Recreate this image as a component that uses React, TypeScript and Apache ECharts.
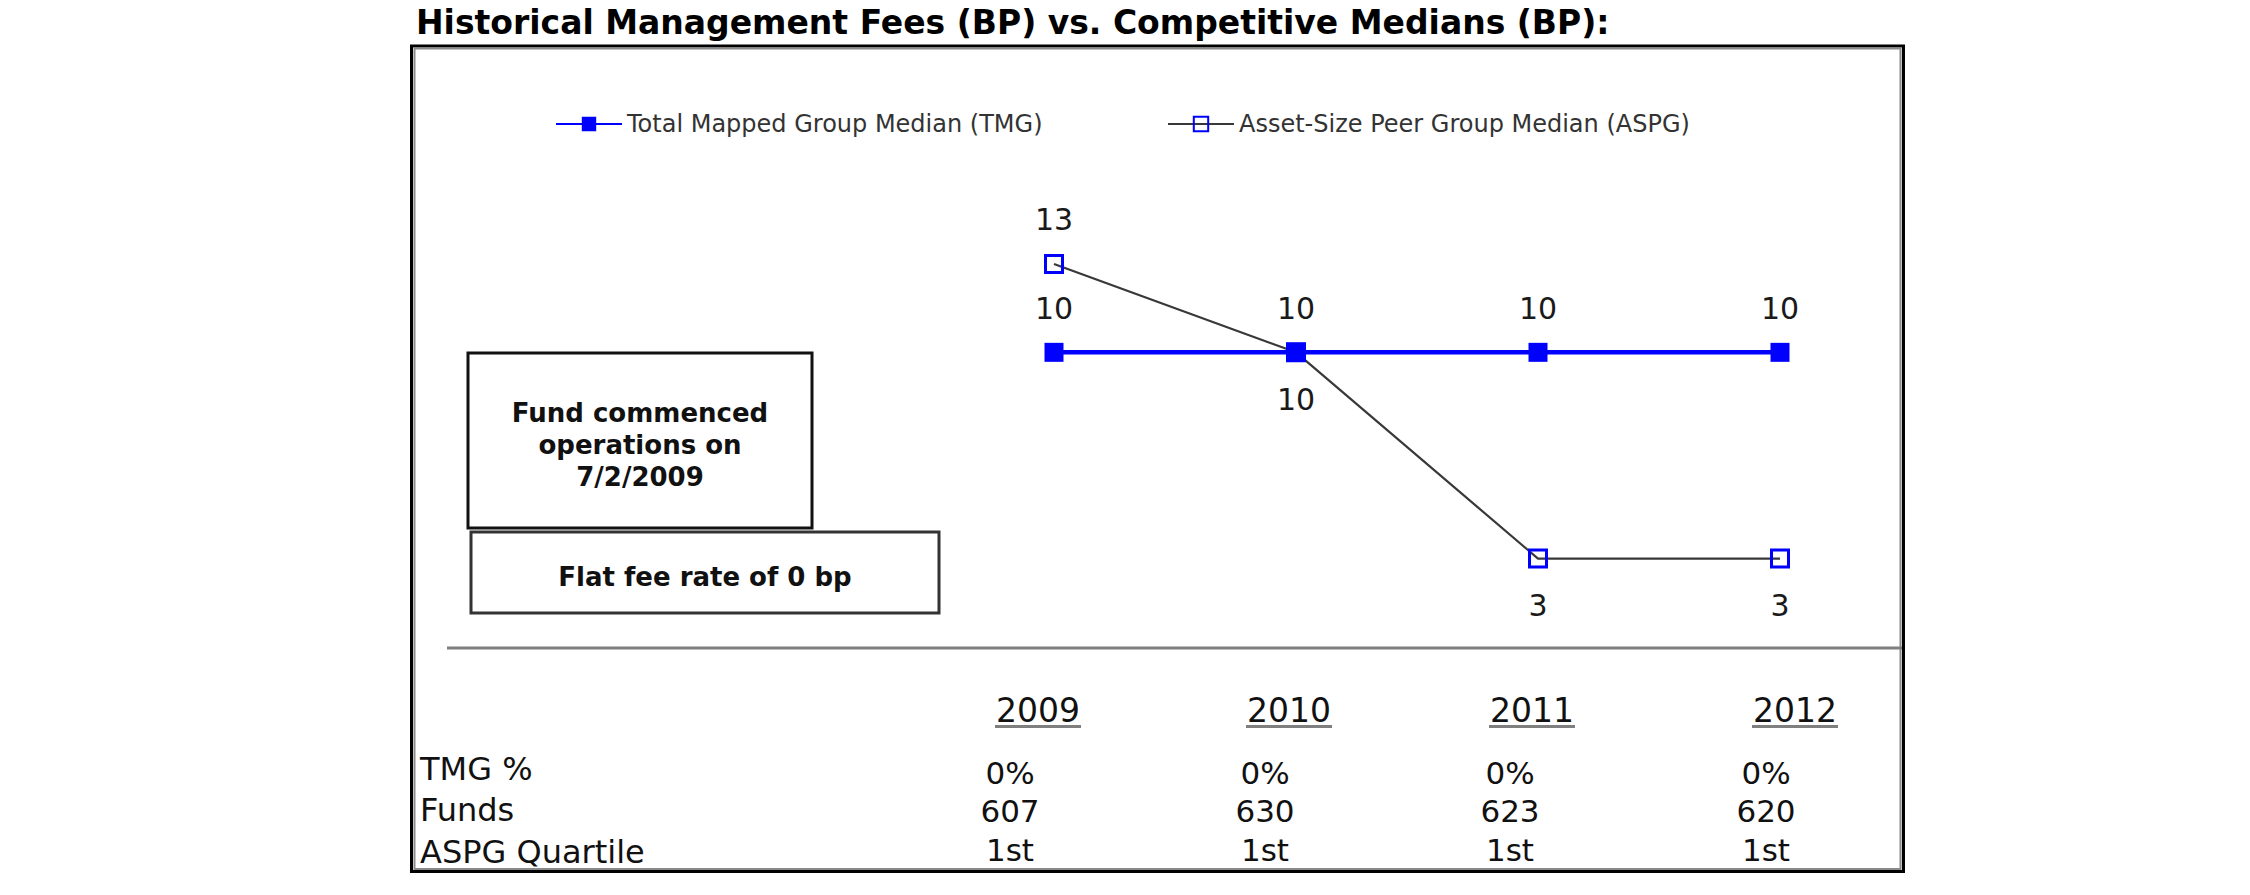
import React, { useEffect, useRef } from "react";
import * as echarts from "echarts";

// ---- data ----
const years = ["2009", "2010", "2011", "2012"];
const tmgMedian = [10, 10, 10, 10];
const aspgMedian = [13, 10, 3, 3];
const tmgPct = ["0%", "0%", "0%", "0%"];
const fundCounts = [607, 630, 623, 620];
const aspgQuartile = ["1st", "1st", "1st", "1st"];
const rowLabels = ["TMG %", "Funds", "ASPG Quartile"];
const seriesNames = ["Total Mapped Group Median (TMG)", "Asset-Size Peer Group Median (ASPG)"];
const titleText = "Historical Management Fees (BP) vs. Competitive Medians (BP):";
const noteLines = ["Fund commenced", "operations on", "7/2/2009"];
const feeNote = "Flat fee rate of 0 bp";
const aspgLabelSide = ["top", "bottom", "bottom", "bottom"];

// ---- layout (positions / styles) ----
const FONT = "DejaVu Sans";
const yearColX = [1038, 1289, 1532, 1795];
const valueColX = [1010, 1265, 1510, 1766];
const rowLabelY = [769, 810, 852];
const rowValueY = [773, 811, 850];
const yearY = 710;

function buildGraphics() {
  const g: any[] = [];
  g.push({
    type: "text",
    left: 416,
    top: 6,
    style: { text: titleText, fontFamily: FONT, fontWeight: "bold", fontSize: 33, fill: "#000" },
  });
  // frame
  g.push({
    type: "rect",
    shape: { x: 411.5, y: 46, width: 1492, height: 825.5 },
    style: { fill: "none", stroke: "#000", lineWidth: 3 },
  });
  g.push({
    type: "rect",
    shape: { x: 414.5, y: 48.5, width: 1486, height: 820.5 },
    style: { fill: "none", stroke: "#8a8a8a", lineWidth: 2 },
  });
  // separator
  g.push({
    type: "line",
    shape: { x1: 447, y1: 648, x2: 1902, y2: 648 },
    style: { stroke: "#7f7f7f", lineWidth: 3 },
  });
  // note boxes
  g.push({
    type: "rect",
    shape: { x: 468, y: 353, width: 344, height: 175 },
    style: { fill: "#fff", stroke: "#111", lineWidth: 3 },
  });
  g.push({
    type: "rect",
    shape: { x: 471, y: 532, width: 468, height: 81 },
    style: { fill: "#fff", stroke: "#333", lineWidth: 3 },
  });
  noteLines.forEach((t, i) => {
    g.push({
      type: "text",
      x: 640,
      y: 413 + i * 32,
      style: { text: t, fontFamily: FONT, fontWeight: "bold", fontSize: 26, fill: "#111", align: "center", verticalAlign: "middle" },
    });
  });
  g.push({
    type: "text",
    x: 705,
    y: 577,
    style: { text: feeNote, fontFamily: FONT, fontWeight: "bold", fontSize: 26, fill: "#111", align: "center", verticalAlign: "middle" },
  });
  // table
  years.forEach((yr, i) => {
    g.push({
      type: "text",
      x: yearColX[i],
      y: yearY,
      style: { text: yr, fontFamily: FONT, fontSize: 33, fill: "#111", align: "center", verticalAlign: "middle" },
    });
    g.push({
      type: "rect",
      shape: { x: yearColX[i] - 43, y: 725, width: 86, height: 3 },
      style: { fill: "#7f7f7f" },
    });
  });
  rowLabels.forEach((t, r) => {
    g.push({
      type: "text",
      x: 420,
      y: rowLabelY[r],
      style: { text: t, fontFamily: FONT, fontSize: 32, fill: "#111", align: "left", verticalAlign: "middle" },
    });
  });
  const rows = [tmgPct, fundCounts.map(String), aspgQuartile];
  rows.forEach((vals, r) => {
    vals.forEach((v, i) => {
      g.push({
        type: "text",
        x: valueColX[i],
        y: rowValueY[r],
        style: { text: v, fontFamily: FONT, fontSize: 31, fill: "#111", align: "center", verticalAlign: "middle" },
      });
    });
  });
  return g;
}

export default function App() {
  const ref = useRef<HTMLDivElement>(null);
  useEffect(() => {
    if (!ref.current) return;
    const chart = echarts.init(ref.current, undefined, { renderer: "svg" });
    const legendText = { fontFamily: FONT, fontSize: 24, color: "#333" };
    chart.setOption({
      animation: false,
      backgroundColor: "#fff",
      legend: [
        { data: [seriesNames[0]], left: 550, top: 107, itemWidth: 66, itemHeight: 18, textStyle: legendText, selectedMode: false },
        { data: [seriesNames[1]], left: 1162, top: 107, itemWidth: 66, itemHeight: 18, textStyle: legendText, selectedMode: false },
      ],
      grid: { left: 933, right: 349, top: 205, bottom: 248 },
      xAxis: {
        type: "category",
        data: years,
        boundaryGap: true,
        show: false,
      },
      yAxis: { type: "value", min: 0, max: 15, show: false },
      graphic: buildGraphics(),
      series: [
        {
          name: seriesNames[0],
          type: "line",
          data: tmgMedian,
          symbol: "rect",
          symbolSize: 19,
          lineStyle: { color: "#0000ff", width: 4.5 },
          itemStyle: { color: "#0000ff" },
          label: { show: true, position: "top", distance: 19, fontFamily: FONT, fontSize: 30, color: "#1a1a1a" },
          emphasis: { disabled: true },
        },
        {
          name: seriesNames[1],
          type: "line",
          data: aspgMedian.map((v, i) => ({
            value: v,
            label: { position: aspgLabelSide[i], distance: aspgLabelSide[i] === "top" ? 19 : 22 },
          })),
          symbol: "rect",
          symbolSize: 17,
          lineStyle: { color: "#383838", width: 2.2 },
          itemStyle: { color: "rgba(255,255,255,0)", borderColor: "#0000ff", borderWidth: 3 },
          label: { show: true, fontFamily: FONT, fontSize: 30, color: "#1a1a1a" },
          emphasis: { disabled: true },
        },
      ],
    });
    return () => chart.dispose();
  }, []);
  return <div ref={ref} style={{ position: "absolute", left: 0, top: 0, width: 2250, height: 895 }} />;
}
